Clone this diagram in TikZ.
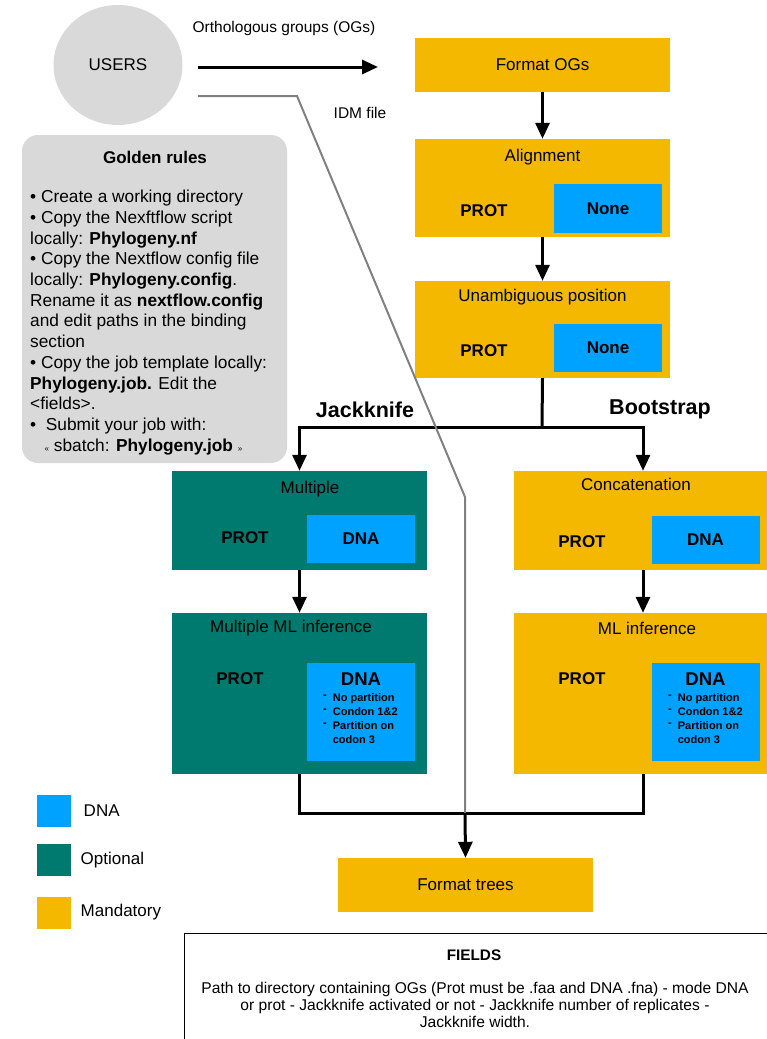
\documentclass[tikz,border=0pt]{standalone}
\usepackage{fontspec}
\setmainfont{Liberation Sans}
\usetikzlibrary{arrows.meta,positioning,calc,shapes.geometric}
\definecolor{mandatory}{HTML}{F5B800}
\definecolor{optional}{HTML}{00796F}
\definecolor{dnablue}{HTML}{00A2FF}
\definecolor{usergray}{HTML}{D9D9D9}
\newcommand{\dnalist}{\fontsize{11}{14}\selectfont\bfseries
  \begin{tabular}{@{}l@{\hspace{6pt}}l@{}}
  \raisebox{3pt}{-} & No partition\\
  \raisebox{3pt}{-} & Condon 1\&2\\
  \raisebox{3pt}{-} & Partition on\\
   & codon 3
  \end{tabular}}
\tikzset{
  stepbox/.style={fill=mandatory, minimum width=255pt, inner sep=0pt},
  optbox/.style={stepbox, fill=optional},
  dnabox/.style={fill=dnablue, minimum width=108pt, inner sep=0pt},
  flow/.style={line width=3pt, -{Triangle[width=14pt,length=16pt]}},
  branchline/.style={line width=3pt},
  idm/.style={line width=2pt, draw=gray},
  title/.style={font=\fontsize{17}{20}\selectfont},
  small/.style={font=\fontsize{15.5}{18}\selectfont},
  prot/.style={font=\bfseries\fontsize{17}{20}\selectfont},
  branch/.style={font=\bfseries\fontsize{21.5}{24}\selectfont},
  legendbox/.style={minimum width=34pt, minimum height=32pt, inner sep=0pt},
}

\begin{document}
\begin{tikzpicture}[x=1pt,y=-1pt]
\clip (0,0) rectangle (767,1039);
% users and golden rules
\node[ellipse, fill=usergray, minimum width=129pt, minimum height=120pt, inner sep=0pt, title] (users) at (118,65) {USERS};
\node[fill=usergray, rounded corners=16pt, minimum width=265pt, minimum height=328pt] (rules) at (154.5,299) {};
\node[prot] (rulestitle) at (155,157) {Golden rules};
\node[anchor=north west, inner sep=0pt, align=left, font=\fontsize{17.3}{20.7}\selectfont] (rulestext) at (30,190) {%
\textbullet\ Create a working directory\\
\textbullet\ Copy the Nexftflow script\\
locally: \textbf{Phylogeny.nf}\\
\textbullet\ Copy the Nextflow config file\\
locally: \textbf{Phylogeny.config}.\\
Rename it as \textbf{nextflow.config}\\
and edit paths in the binding\\
section\\
\textbullet\ Copy the job template locally:\\
\textbf{Phylogeny.job.} Edit the\\
<fields>.\\
\textbullet\ \ Submit your job with:\\
\ \ \ {\footnotesize«} sbatch: \textbf{Phylogeny.job} {\footnotesize»}};
% main steps
\node[stepbox, minimum height=54pt, title] (formatogs) at (542.5,65) {Format OGs};
\node[stepbox, minimum height=98pt] (align) at (542.5,188) {};
\node[title] (aligntitle) at (542.5,157) {Alignment};
\node[prot] (alignprot) at (484,211) {PROT};
\node[dnabox, minimum height=49pt, prot] (alignnone) at (608,208.5) {None};
\node[stepbox, minimum height=97pt] (unamb) at (542.5,329.5) {};
\node[title] (unambtitle) at (542.5,297) {Unambiguous position};
\node[prot] (unambprot) at (484,351) {PROT};
\node[dnabox, minimum height=48pt, prot] (unambnone) at (608,348) {None};
% jackknife side
\node[optbox, minimum height=99pt] (multiple) at (299.5,520.5) {};
\node[title] (multipletitle) at (310,489) {Multiple};
\node[prot] (multipleprot) at (245,538) {PROT};
\node[dnabox, minimum height=48pt, prot] (multipledna) at (361,539) {DNA};
\node[optbox, minimum height=161pt] (mml) at (299.5,693.5) {};
\node[title] (mmltitle) at (291,628) {Multiple ML inference};
\node[prot] (mmlprot) at (240,679) {PROT};
\node[dnabox, minimum height=98pt] (mmldna) at (361,711.5) {};
\node[font=\bfseries\fontsize{18.5}{20}\selectfont] (mmldnatitle) at (361,679) {DNA};
\node[anchor=north west, inner sep=0pt] (mmllist) at (323,691) {\dnalist};
% bootstrap side
\node[stepbox, minimum height=99pt] (concat) at (641,520.5) {};
\node[title] (concattitle) at (636,484) {Concatenation};
\node[prot] (concatprot) at (582,542) {PROT};
\node[dnabox, minimum height=48pt, prot] (concatdna) at (705.5,539.5) {DNA};
\node[stepbox, minimum height=161pt] (mlinf) at (641,693.5) {};
\node[title] (mlinftitle) at (647,628) {ML inference};
\node[prot] (mlinfprot) at (582,679) {PROT};
\node[dnabox, minimum height=98pt] (mlinfdna) at (705.5,712) {};
\node[font=\bfseries\fontsize{18.5}{20}\selectfont] (mlinfdnatitle) at (705.5,679) {DNA};
\node[anchor=north west, inner sep=0pt] (mlinflist) at (668,691) {\dnalist};
\node[stepbox, minimum height=54pt, title] (formattrees) at (465.5,885) {Format trees};
% connectors
\coordinate (ogsstart) at (198,67);
\coordinate (ogsend) at (378,67);
\draw[flow] (ogsstart) -- (ogsend);
\node[small] (ogslabel) at (284,28) {Orthologous groups (OGs)};
\draw[flow] (formatogs.south) -- (align.north);
\draw[flow] (align.south) -- (unamb.north);
\coordinate (split) at (542,427);
\draw[branchline] (unamb.south) -- (split);
\draw[flow] (split) -| (multiple.north);
\draw[flow] (split) -| ($(concat.north)+(2,0)$);
\node[branch] (jackknife) at (365,410) {Jackknife};
\node[branch] (bootstrap) at (660,409) {Bootstrap};
\draw[flow] (multiple.south) -- (mml.north);
\draw[flow] ($(concat.south)+(2,0)$) -- ($(mlinf.north)+(2,0)$);
\coordinate (merge) at (465,813);
\draw[branchline] (mml.south) |- (merge);
\draw[branchline] ($(mlinf.south)+(2,0)$) |- (merge);
\coordinate (idmstart) at (198,96);
\coordinate (idmbend) at (297,96);
\coordinate (idmdown) at (465,497);
\draw[idm] (idmstart) -- (idmbend) -- (idmdown) -- (merge);
\node[small] (idmlabel) at (360,113) {IDM file};
\draw[flow] (merge) -- (formattrees.north);
% legend
\node[legendbox, fill=dnablue] (legdna) at (54,811) {};
\node[legendbox, fill=optional] (legopt) at (54,860) {};
\node[legendbox, fill=mandatory] (legman) at (54,912.5) {};
\node[title, right=9pt of legdna] {DNA};
\node[title, right=6pt of legopt] {Optional};
\node[title, right=6pt of legman] {Mandatory};
% fields
\node[draw, line width=1pt, fill=white, minimum width=600pt, minimum height=120pt, anchor=north west] (fields) at (184,933) {};
\node[font=\bfseries\fontsize{15.3}{18}\selectfont] (fieldstitle) at (474,955) {FIELDS};
\node[align=center, font=\fontsize{15.6}{17}\selectfont] (fieldstext) at (475,1005) {Path to directory containing OGs (Prot must be .faa and DNA .fna) - mode DNA\\ or prot - Jackknife activated or not - Jackknife number of replicates -\\ Jackknife width.};
\end{tikzpicture}
\end{document}
